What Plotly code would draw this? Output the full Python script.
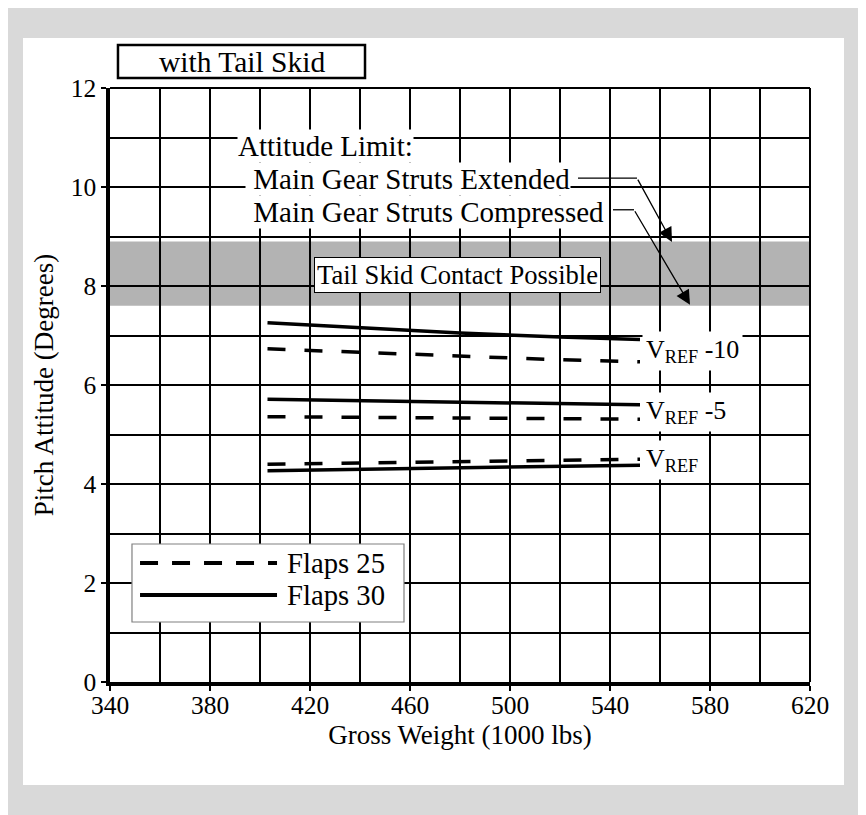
import plotly.graph_objects as go

FONT = "Liberation Serif"

# Data
weights = [403, 440, 480, 520, 552]
f30_vref10 = [7.26, 7.16, 7.05, 6.97, 6.92]
f25_vref10 = [6.73, 6.66, 6.58, 6.51, 6.47]
f30_vref5 = [5.71, 5.68, 5.65, 5.62, 5.60]
f25_vref5 = [5.36, 5.35, 5.33, 5.32, 5.31]
f25_vref = [4.40, 4.43, 4.46, 4.48, 4.50]
f30_vref = [4.27, 4.30, 4.33, 4.36, 4.38]

x_ticks = [340, 380, 420, 460, 500, 540, 580, 620]
y_ticks = [0, 2, 4, 6, 8, 10, 12]
band_low, band_high = 7.6, 8.9

fig = go.Figure()

series = [
    (f30_vref10, "solid", "Flaps 30"),
    (f25_vref10, "18px,19px", "Flaps 25"),
    (f30_vref5, "solid", "Flaps 30"),
    (f25_vref5, "18px,19px", "Flaps 25"),
    (f25_vref, "18px,19px", "Flaps 25"),
    (f30_vref, "solid", "Flaps 30"),
]
for ys, dash, name in series:
    fig.add_trace(go.Scatter(
        x=weights, y=ys, mode="lines", name=name, showlegend=False,
        line=dict(color="black", width=3.5, dash=dash),
    ))

shapes = []
# white panel
shapes.append(dict(type="rect", xref="paper", yref="paper", x0=-0.1243, x1=1.0486,
                   y0=-0.1734, y1=1.0842, fillcolor="white", line=dict(width=0), layer="below"))
# band
shapes.append(dict(type="rect", xref="x", yref="y", x0=340, x1=620, y0=band_low, y1=band_high,
                   fillcolor="#b3b3b3", line=dict(width=0), layer="below"))
# top/right borders
shapes.append(dict(type="line", xref="paper", yref="paper", x0=0, x1=1, y0=1, y1=1,
                   line=dict(color="black", width=2)))
shapes.append(dict(type="line", xref="paper", yref="paper", x0=1, x1=1, y0=0, y1=1,
                   line=dict(color="black", width=2)))
# "with Tail Skid" box
shapes.append(dict(type="rect", xref="paper", yref="paper", x0=0.0114, x1=0.3643,
                   y0=1.0168, y1=1.0724, fillcolor="white", line=dict(color="black", width=2.5)))
# legend box
shapes.append(dict(type="rect", xref="paper", yref="paper", x0=0.0314, x1=0.42,
                   y0=0.101, y1=0.2323, fillcolor="white", line=dict(color="#808080", width=1.2)))
shapes.append(dict(type="line", xref="paper", yref="paper", x0=0.0429, x1=0.2386,
                   y0=0.2003, y1=0.2003, line=dict(color="black", width=4, dash="18px,14px")))
shapes.append(dict(type="line", xref="paper", yref="paper", x0=0.0429, x1=0.2386,
                   y0=0.1465, y1=0.1465, line=dict(color="black", width=4)))
# arrow horizontal leaders
shapes.append(dict(type="line", xref="x", yref="y", x0=527.2, x1=550.8, y0=10.18, y1=10.18,
                   line=dict(color="black", width=1.3)))
shapes.append(dict(type="line", xref="x", yref="y", x0=541.2, x1=549.6, y0=9.54, y1=9.54,
                   line=dict(color="black", width=1.3)))

ann = []
tf = lambda s: dict(family=FONT, size=s, color="black")
ann.append(dict(xref="paper", yref="paper", x=0.1879, y=1.0446, text="with Tail Skid",
                showarrow=False, font=tf(29.5), xanchor="center", yanchor="middle"))
ann.append(dict(xref="x", yref="y", x=390.8, y=10.82, text="Attitude Limit:", showarrow=False,
                font=tf(29), xanchor="left", yanchor="middle", bgcolor="white", borderpad=0))
ann.append(dict(xref="x", yref="y", x=394, y=10.17, text=" Main Gear Struts Extended", showarrow=False,
                font=tf(29), xanchor="left", yanchor="middle", bgcolor="white", borderpad=0))
ann.append(dict(xref="x", yref="y", x=394, y=9.49, text=" Main Gear Struts Compressed", showarrow=False,
                font=tf(29), xanchor="left", yanchor="middle", bgcolor="white", borderpad=0))
ann.append(dict(xref="x", yref="y", x=479, y=8.23, text="Tail Skid Contact Possible", showarrow=False,
                font=tf(26.6), xanchor="center", yanchor="middle", bgcolor="white",
                bordercolor="black", borderwidth=1, borderpad=2))
# arrows
ann.append(dict(xref="x", yref="y", axref="x", ayref="y", x=564.8, y=8.89, ax=550.8, ay=10.18,
                text="", showarrow=True, arrowhead=2, arrowsize=2.2, arrowwidth=1.3,
                arrowcolor="black", standoff=0))
ann.append(dict(xref="x", yref="y", axref="x", ayref="y", x=572.0, y=7.62, ax=549.6, ay=9.54,
                text="", showarrow=True, arrowhead=2, arrowsize=2.2, arrowwidth=1.3,
                arrowcolor="black", standoff=0))
# V_REF labels
for yv, txt in [(6.68, "V<sub>REF</sub> -10"), (5.46, "V<sub>REF</sub> -5"), (4.49, "V<sub>REF</sub>")]:
    ann.append(dict(xref="x", yref="y", x=552.8, y=yv, text=txt, showarrow=False,
                    font=tf(26), xanchor="left", yanchor="middle", bgcolor="white", borderpad=3))
# legend labels
ann.append(dict(xref="paper", yref="paper", x=0.25, y=0.2003, text="Flaps 25", showarrow=False,
                font=tf(28.7), xanchor="left", yanchor="middle"))
ann.append(dict(xref="paper", yref="paper", x=0.25, y=0.1465, text="Flaps 30", showarrow=False,
                font=tf(28.7), xanchor="left", yanchor="middle"))

fig.update_layout(
    width=866, height=815,
    margin=dict(l=102, r=64, t=80, b=141),
    paper_bgcolor="#d9d9d9", plot_bgcolor="white",
    font=dict(family=FONT, color="black", size=25),
    shapes=shapes, annotations=ann, showlegend=False,
)
fig.update_xaxes(
    range=[340, 620], tickvals=x_ticks, ticktext=[str(v) for v in x_ticks],
    showgrid=True, gridcolor="black", gridwidth=2,
    minor=dict(dtick=20, tick0=340, showgrid=True, gridcolor="black", gridwidth=2, ticks=""),
    showline=True, linecolor="black", linewidth=3.5,
    ticks="outside", ticklen=5, tickwidth=2, tickcolor="black",
    tickfont=dict(family=FONT, size=25.5), ticklabelstandoff=-7,
    title=dict(text="Gross Weight (1000 lbs)", font=dict(family=FONT, size=27), standoff=2),
    zeroline=False,
)
fig.update_yaxes(
    range=[0, 12], tickvals=y_ticks, ticktext=[str(v) for v in y_ticks],
    showgrid=True, gridcolor="black", gridwidth=2,
    minor=dict(dtick=1, tick0=0, showgrid=True, gridcolor="black", gridwidth=2, ticks=""),
    showline=True, linecolor="black", linewidth=3.5,
    ticks="outside", ticklen=5, tickwidth=2, tickcolor="black",
    tickfont=dict(family=FONT, size=25.5),
    title=dict(text="Pitch Attitude (Degrees)", font=dict(family=FONT, size=27), standoff=10),
    zeroline=False,
)

fig.write_html("out.html")
